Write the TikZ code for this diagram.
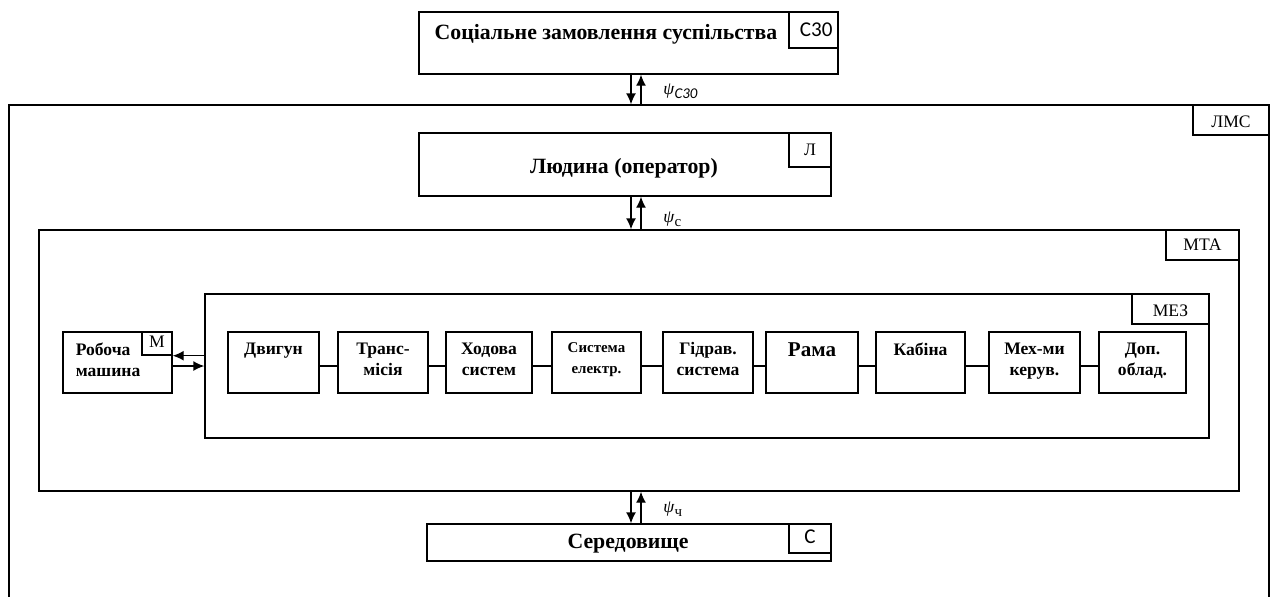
\documentclass[tikz,border=0pt]{standalone}
\usepackage{fontspec}
\setmainfont{Liberation Serif}
\newfontfamily\calfont{Carlito}
\usetikzlibrary{fit,arrows.meta}
\begin{document}
\begin{tikzpicture}[x=0.02cm,y=-0.02cm,
    blk/.style={draw,line width=0.8pt,inner sep=0pt},
    tag/.style={draw,line width=0.8pt,inner sep=0pt},
    tagtxt/.style={inner sep=0pt,font=\fontsize{10}{12}\selectfont},
    unit/.style={draw,line width=0.8pt,inner sep=0pt},
    lbl/.style={anchor=north,align=center,inner sep=0pt,yshift=-6.2pt,
      font=\bfseries\fontsize{10}{12}\selectfont},
    title/.style={anchor=base,inner sep=0pt,font=\bfseries\fontsize{12.4}{14}\selectfont},
    psi/.style={anchor=base west,inner sep=0pt,font=\fontsize{10}{12}\selectfont},
    >={Latex[length=2.2mm,width=2mm]}]
  \useasboundingbox (0,0) rectangle (1274,596);

  % frames
  \node[blk,fit={(419,12) (838,74)}] (szo) {};
  \node[blk,fit={(9,105) (1269,640)}] (lms) {};
  \node[blk,fit={(419,133) (831,196)}] (lyud) {};
  \node[blk,fit={(39,230) (1239,491)}] (mta) {};
  \node[blk,fit={(205,294) (1209,438)}] (mez) {};
  \node[blk,fit={(427,524) (831,561)}] (ser) {};

  \node[tag,fit={(789,12) (838,48)},
    label={[tagtxt,font=\calfont\fontsize{12}{14}\selectfont,xshift=1.5pt]center:С30}] (szotag) {};
  \node[tag,fit={(1193,105) (1269,135)},label={[tagtxt,yshift=-1pt]center:ЛМС}] (lmstag) {};
  \node[tag,fit={(789,133) (831,167)},label={[tagtxt]center:Л}] (lyudtag) {};
  \node[tag,fit={(1166,230) (1239,260)},label={[tagtxt]center:МТА}] (mtatag) {};
  \node[tag,fit={(1132,294) (1209,324)},label={[tagtxt,yshift=-1pt]center:МЕЗ}] (meztag) {};
  \node[tag,fit={(789,524) (831,553)},
    label={[tagtxt,font=\calfont\fontsize{12}{14}\selectfont,yshift=1pt]center:С}] (sertag) {};

  \node[title] (szotxt) at (606,39) {Соціальне замовлення суспільства};
  \node[title] (lyudtxt) at (624,173) {Людина (оператор)};
  \node[title] (sertxt) at (628,548) {Середовище};

  % machine units
  \node[unit,fit={(63,332) (172,393)},
    label={[lbl,anchor=north west,align=left,xshift=7.5pt]north west:{Робоча\\машина}}] (rob) {};
  \node[tag,fit={(142,332) (172,355)},label={[tagtxt,yshift=1pt]center:М}] (robtag) {};
  \node[unit,fit={(228,332) (319,393)},label={[lbl]north:Двигун}] (dvyhun) {};
  \node[unit,fit={(338,332) (428,393)},label={[lbl]north:{Транс-\\місія}}] (trans) {};
  \node[unit,fit={(446,332) (532,393)},label={[lbl]north:{Ходова\\систем}}] (khod) {};
  \node[unit,fit={(552,332) (641,393)},
    label={[lbl,font=\bfseries\fontsize{8.5}{12}\selectfont]north:{Система\\електр.}}] (elek) {};
  \node[unit,fit={(663,332) (753,393)},label={[lbl]north:{Гідрав.\\система}}] (hidr) {};
  \node[unit,fit={(766,332) (858,393)},
    label={[lbl,font=\bfseries\fontsize{12}{14}\selectfont]north:Рама}] (rama) {};
  \node[unit,fit={(876,332) (965,393)},label={[lbl]north:Кабіна}] (kab) {};
  \node[unit,fit={(989,332) (1080,393)},label={[lbl]north:{Мех-ми\\керув.}}] (mekh) {};
  \node[unit,fit={(1099,332) (1186,393)},label={[lbl]north:{Доп.\\облад.}}] (dop) {};

  % flows
  \node[psi] (psiszo) at (663,94) {\textit{ψ}\raisebox{-2.3pt}{\calfont\itshape\fontsize{8.5}{10}\selectfont С30}};
  \node[psi] (psic) at (663,222) {\textit{ψ}\raisebox{-2.3pt}{\fontsize{8.5}{10}\selectfont с}};
  \node[psi] (psich) at (663,512) {\textit{ψ}\raisebox{-2.3pt}{\fontsize{8.5}{10}\selectfont ч}};

  \coordinate (dn) at (631,0);
  \coordinate (up) at (641,0);
  \begin{scope}[line width=0.8pt]
    \draw[->] (szo.south -| dn) -- (lms.north -| dn);
    \draw[->] (lms.north -| up) -- (szo.south -| up);
    \draw[->] (lyud.south -| dn) -- (mta.north -| dn);
    \draw[->] (mta.north -| up) -- (lyud.south -| up);
    \draw[->] (mta.south -| dn) -- (ser.north -| dn);
    \draw[->] (ser.north -| up) -- (mta.south -| up);
    \draw[->] (mez.west |- robtag.south) -- (robtag.south east);
    \draw[->] ([yshift=-2pt]rob.east) -- ([yshift=-2pt]rob.east -| mez.west);
    \draw ([yshift=-2pt]dvyhun.east) -- ([yshift=-2pt]trans.west);
    \draw ([yshift=-2pt]trans.east) -- ([yshift=-2pt]khod.west);
    \draw ([yshift=-2pt]khod.east) -- ([yshift=-2pt]elek.west);
    \draw ([yshift=-2pt]elek.east) -- ([yshift=-2pt]hidr.west);
    \draw ([yshift=-2pt]hidr.east) -- ([yshift=-2pt]rama.west);
    \draw ([yshift=-2pt]rama.east) -- ([yshift=-2pt]kab.west);
    \draw ([yshift=-2pt]kab.east) -- ([yshift=-2pt]mekh.west);
    \draw ([yshift=-2pt]mekh.east) -- ([yshift=-2pt]dop.west);
  \end{scope}
\end{tikzpicture}
\end{document}
